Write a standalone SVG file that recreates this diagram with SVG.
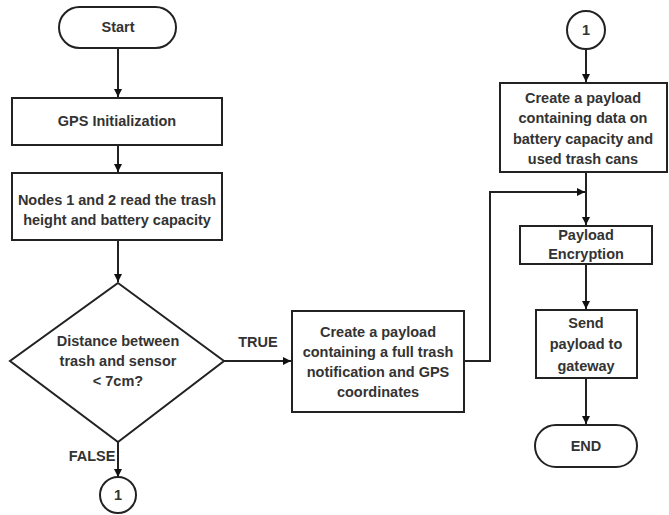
<svg xmlns="http://www.w3.org/2000/svg" width="669" height="515" viewBox="0 0 669 515">
<defs>
<marker id="ah" viewBox="0 0 10 10" refX="10" refY="5" markerWidth="8" markerHeight="8" orient="auto" markerUnits="userSpaceOnUse">
<path d="M0,0 L10,5 L0,10 z" fill="#111"/>
</marker>
<style>
.n{fill:#fff;stroke:#222;stroke-width:2}
.t{font-family:"Liberation Sans",Arial,sans-serif;font-weight:bold;font-size:14.5px;fill:#333;text-anchor:middle;dominant-baseline:central}
.c{fill:none;stroke:#222;stroke-width:2}
</style>
</defs>
<rect width="669" height="515" fill="#fff"/>
<g id="connectors">
<path class="c" d="M118,48 V97" marker-end="url(#ah)"/>
<path class="c" d="M118,145 V172" marker-end="url(#ah)"/>
<path class="c" d="M118,240 V282" marker-end="url(#ah)"/>
<path class="c" d="M224,361 H291" marker-end="url(#ah)"/>
<path class="c" d="M118,442 V477" marker-end="url(#ah)"/>
<path class="c" d="M464,361 H490 V192 H585" marker-end="url(#ah)"/>
<path class="c" d="M586,49 V82" marker-end="url(#ah)"/>
<path class="c" d="M586,172 V225" marker-end="url(#ah)"/>
<path class="c" d="M586,264 V309" marker-end="url(#ah)"/>
<path class="c" d="M586,378 V424" marker-end="url(#ah)"/>
<text class="t" x="258" y="342">TRUE</text>
<text class="t" x="92" y="456">FALSE</text>
</g>
<g id="start">
<rect class="n" x="59" y="7" width="117" height="41" rx="20.5"/>
<text class="t" x="118" y="27">Start</text>
</g>
<g id="gps">
<rect class="n" x="12" y="98" width="210" height="47"/>
<text class="t" x="117" y="121">GPS Initialization</text>
</g>
<g id="read">
<rect class="n" x="12" y="173" width="210" height="67"/>
<text class="t" x="117" y="200">Nodes 1 and 2 read the trash</text>
<text class="t" x="117" y="220">height and battery capacity</text>
</g>
<g id="decision">
<path class="n" d="M118,283 L224,361 L118,442 L10,361 z"/>
<text class="t" x="118" y="341">Distance between</text>
<text class="t" x="118" y="361">trash and sensor</text>
<text class="t" x="118" y="381">&lt; 7cm?</text>
</g>
<g id="conn1a">
<circle class="n" cx="118" cy="495" r="18"/>
<text class="t" x="118" y="495">1</text>
</g>
<g id="full">
<rect class="n" x="292" y="311" width="172" height="101"/>
<text class="t" x="378" y="332">Create a payload</text>
<text class="t" x="378" y="352">containing a full trash</text>
<text class="t" x="378" y="372">notification and GPS</text>
<text class="t" x="378" y="392">coordinates</text>
</g>
<g id="conn1b">
<circle class="n" cx="586" cy="30" r="19"/>
<text class="t" x="586" y="30">1</text>
</g>
<g id="battery">
<rect class="n" x="500" y="83" width="167" height="89"/>
<text class="t" x="583" y="98">Create a payload</text>
<text class="t" x="583" y="118">containing data on</text>
<text class="t" x="583" y="139">battery capacity and</text>
<text class="t" x="583" y="159">used trash cans</text>
</g>
<g id="encrypt">
<rect class="n" x="520" y="226" width="132" height="38"/>
<text class="t" x="586" y="235">Payload</text>
<text class="t" x="586" y="254">Encryption</text>
</g>
<g id="send">
<rect class="n" x="536" y="310" width="101" height="68"/>
<text class="t" x="586" y="323">Send</text>
<text class="t" x="586" y="344">payload to</text>
<text class="t" x="586" y="366">gateway</text>
</g>
<g id="end">
<rect class="n" x="535" y="425" width="102" height="42" rx="21"/>
<text class="t" x="586" y="446">END</text>
</g>
</svg>
